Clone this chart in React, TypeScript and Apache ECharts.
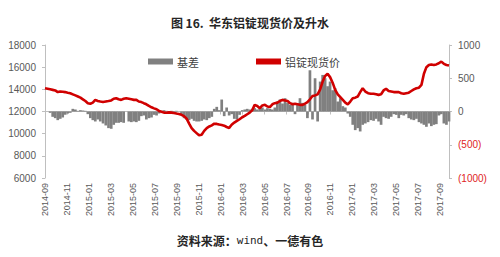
import React, { useEffect, useRef } from "react";
import * as echarts from "echarts";

// weekly observation dates, starting 2014-09-01
const START_DATE = "2014-09-01";
const WEEKS = 161;

// 铝锭现货价 (元/吨), weekly
const spotPrice: number[] = [
  14100, 14050, 14000, 13950, 13900, 13750, 13800, 13780, 13750, 13700,
  13650, 13550, 13450, 13350, 13250, 13100, 12950, 12750, 12700, 12800,
  13050, 12950, 12900, 12850, 12900, 12950, 13000, 13150, 13200, 13100,
  13050, 13150, 13200, 13150, 13100, 13050, 13050, 12900, 12850, 12750,
  12650, 12500, 12380, 12280, 12200, 12050, 11980, 11900, 11880, 11920,
  11900, 11860, 11820, 11780, 11700, 11580, 11350, 10900, 10500, 10250,
  10050, 9850, 9900, 10250, 10500, 10650, 10750, 10900, 10880, 10820,
  10780, 10720, 10600, 10520, 10800, 11000, 11150, 11300, 11480, 11600,
  11750, 11900, 12100, 12600, 12500, 12300, 12550, 12600, 12450, 12400,
  12650, 12750, 12800, 12950, 13050, 13000, 12950, 12750, 12650, 12700,
  12650, 12600, 12600, 12700, 12850, 13100, 13400, 13450, 13550, 14000,
  14700, 15200, 15400, 15100, 14600, 13950, 13550, 13300, 13050, 12800,
  12650, 12900, 13200, 13250, 13350, 13750, 14100, 13800, 13650, 13600,
  13600, 13550, 13500, 13550, 13900, 14050, 13850, 13800, 13750, 13750,
  13750, 13650, 13600, 13650, 13700, 13850, 14000, 14100, 14150, 14400,
  15400, 16000, 16200, 16250, 16200, 16250, 16350, 16500, 16300, 16200,
  16150,
];

// 基差 (元/吨), weekly
const basis: number[] = [
  0, 0, -20, -80, -100, -130, -110, -90, -50, -30,
  -20, 40, 30, 10, 20, 15, 10, -40, -100, -130,
  -150, -120, -150, -180, -210, -250, -260, -200, -170, -170,
  -160, -170, 0, -150, -160, -150, -160, -140, -70, -60,
  -120, -100, -90, -50, -60, -30, 10, 20, 10, -10,
  10, -10, 10, 0, -40, -100, -120, -130, -110, -140,
  -150, -150, -140, -120, -130, -100, -80, 40, 70, 20,
  180, -70, 60, -60, -40, -110, -120, -50, 20, 30,
  40, 30, 40, 50, 30, 40, 60, 30, 50, 40,
  30, 60, 150, 180, 120, 200, 130, 100, 130, -40,
  120, 200, 130, 100, -100, 620, -120, 500, -150, 450,
  550, 500, 380, 450, 320, 350, 150, 200, 80, 60,
  -30, -80, -200, -280, -250, -300, -200, -180, -160, -130,
  -140, -110, -150, -200, -80, -100, -110, -80, -40, -50,
  -100, -50, -60, -40, -100, -120, -130, -110, -160, -180,
  -200, -230, -180, -220, -200, -190, -60, -40, -180, -200,
  -150,
];

// axis settings
const leftTicks = { min: 6000, max: 18000, interval: 2000 };
const rightTicks = { min: -1000, max: 1000, interval: 500 };
const monthSpan = { min: 0, max: 36.8, interval: 2 }; // months since 2014-09

function weeklyDates(): Date[] {
  const out: Date[] = [];
  const s = new Date(START_DATE + "T00:00:00Z");
  for (let i = 0; i < WEEKS; i++) {
    out.push(new Date(s.getTime() + i * 7 * 86400000));
  }
  return out;
}

function monthOffset(d: Date): number {
  const y = d.getUTCFullYear();
  const m = d.getUTCMonth();
  const day = d.getUTCDate();
  const dim = new Date(Date.UTC(y, m + 1, 0)).getUTCDate();
  return (y - 2014) * 12 + (m - 8) + (day - 1) / dim;
}

function monthLabel(v: number): string {
  if (Math.abs(v - Math.round(v)) > 0.01) return "";
  const k = Math.round(v) + 8;
  const y = 2014 + Math.floor(k / 12);
  const m = (k % 12) + 1;
  return `${y}-${m < 10 ? "0" + m : m}`;
}

export default function App() {
  const ref = useRef<HTMLDivElement>(null);
  useEffect(() => {
    document.body.style.margin = "0";
    if (!ref.current) return;
    const chart = echarts.init(ref.current, undefined, { renderer: "svg" });
    const dates = weeklyDates();
    const xs = dates.map(monthOffset);
    const priceData = spotPrice.map((v, i) => [xs[i], v]);
    const basisData = basis.map((v, i) => [xs[i], v]);
    const axisColor = "#bfbfbf";
    const labelColor = "#595959";
    chart.setOption({
      animation: false,
      backgroundColor: "#ffffff",
      title: {
        text: "图 16.  华东铝锭现货价及升水",
        left: "center",
        top: 11,
        textStyle: {
          fontFamily: "Noto Sans CJK SC",
          fontSize: 12,
          fontWeight: "bold",
          color: "#262626",
        },
      },
      legend: {
        left: 143,
        top: 51,
        itemWidth: 25,
        itemHeight: 6,
        itemGap: 57,
        textStyle: {
          fontFamily: "Noto Sans CJK SC",
          fontSize: 11,
          color: "#404040",
          padding: [0, 0, 0, -1],
        },
        data: [
          { name: "基差", icon: "rect" },
          { name: "铝锭现货价", icon: "rect" },
        ],
      },
      grid: { left: 45, right: 51, top: 45, bottom: 79 },
      xAxis: {
        type: "value",
        min: monthSpan.min,
        max: monthSpan.max,
        interval: monthSpan.interval,
        splitLine: { show: false },
        axisLine: { show: true, lineStyle: { color: axisColor } },
        axisTick: { show: true, length: 3, lineStyle: { color: axisColor } },
        axisLabel: {
          rotate: 90,
          margin: 5,
          fontFamily: "Liberation Sans",
          fontSize: 9,
          color: labelColor,
          formatter: monthLabel,
          showMaxLabel: false,
        },
      },
      yAxis: [
        {
          type: "value",
          min: leftTicks.min,
          max: leftTicks.max,
          interval: leftTicks.interval,
          splitLine: { show: false },
          axisLine: { show: true, lineStyle: { color: axisColor } },
          axisTick: { show: true, length: 3, lineStyle: { color: axisColor } },
          axisLabel: {
            margin: 9,
            fontFamily: "Liberation Sans",
            fontSize: 10,
            color: labelColor,
            formatter: (v: number) => String(v),
          },
        },
        {
          type: "value",
          min: rightTicks.min,
          max: rightTicks.max,
          interval: rightTicks.interval,
          splitLine: { show: false },
          axisLine: { show: true, lineStyle: { color: axisColor } },
          axisTick: { show: true, length: 3, lineStyle: { color: axisColor } },
          axisLabel: {
            margin: 9,
            fontFamily: "Liberation Sans",
            fontSize: 10,
            color: labelColor,
            formatter: (v: number) => (v < 0 ? `{neg|(${-v})}` : `${v}`),
            rich: {
              neg: {
                fontFamily: "Liberation Sans",
                fontSize: 10,
                color: "#e02424",
              },
            },
          },
        },
      ],
      series: [
        {
          name: "基差",
          type: "bar",
          yAxisIndex: 1,
          barWidth: 2.7,
          itemStyle: { color: "#808080" },
          data: basisData,
          z: 2,
        },
        {
          name: "铝锭现货价",
          type: "line",
          yAxisIndex: 0,
          symbol: "none",
          showSymbol: false,
          lineStyle: { color: "#d00000", width: 2.6 },
          itemStyle: { color: "#d00000" },
          data: priceData,
          z: 3,
        },
      ],
      graphic: [
        {
          type: "text",
          left: "center",
          top: 234,
          style: {
            text: "{a|资料来源：}{b|wind}{a|、一德有色}",
            rich: {
              a: {
                fontFamily: "Noto Sans CJK SC",
                fontSize: 12,
                fontWeight: "bold",
                fill: "#262626",
              },
              b: {
                fontFamily: "DejaVu Sans Mono",
                fontSize: 11,
                fill: "#262626",
              },
            },
          },
        },
      ],
    });
    return () => chart.dispose();
  }, []);
  return <div ref={ref} style={{ width: 500, height: 257 }} />;
}
